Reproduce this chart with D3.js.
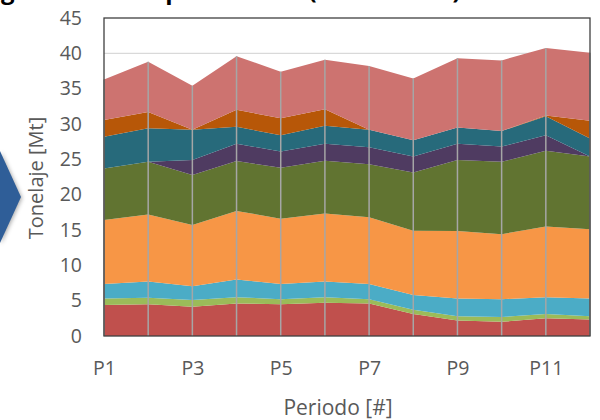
<!DOCTYPE html>
<html>
<head>
<meta charset="utf-8">
<script src="https://cdn.jsdelivr.net/npm/d3@7"></script>
<style>
  body { margin: 0; background: #fff; }
  #container { width: 600px; height: 420px; }
  text { font-family: "Open Sans", "Noto Sans", sans-serif; }
</style>
</head>
<body>
<div id="container"></div>
<script>
const container = d3.select('#container')

// periodos
const periods = ["P1", "P2", "P3", "P4", "P5", "P6", "P7", "P8", "P9", "P10", "P11", "P12"];
const periodTicks = ["P1", "P3", "P5", "P7", "P9", "P11"];
const yTicks = [0, 5, 10, 15, 20, 25, 30, 35, 40, 45];

// tonelaje por serie [Mt], de abajo hacia arriba
const serie1 = [4.4, 4.5, 4.15, 4.6, 4.5, 4.7, 4.6, 3.1, 2.2, 2.0, 2.5, 2.35];
const serie2 = [0.9, 0.9, 0.95, 0.9, 0.7, 0.8, 0.6, 0.6, 0.6, 0.7, 0.6, 0.45];
const serie3 = [2.05, 2.3, 1.95, 2.5, 2.15, 2.2, 2.15, 2.1, 2.5, 2.5, 2.4, 2.5];
const serie4 = [9.05, 9.5, 8.65, 9.7, 9.25, 9.65, 9.45, 9.1, 9.55, 9.2, 10.0, 9.8];
const serie5 = [7.3, 7.45, 7.1, 7.05, 7.2, 7.45, 7.5, 8.25, 10.05, 10.25, 10.7, 10.3];
const serie6 = [0, 0, 2.1, 2.45, 2.3, 2.4, 2.4, 2.25, 2.3, 2.15, 2.2, 0];
const serie7 = [4.5, 4.75, 4.3, 2.4, 2.3, 2.55, 2.5, 2.3, 2.3, 2.2, 2.7, 2.55];
const serie8 = [2.35, 2.3, 0, 2.4, 2.4, 2.35, 0, 0, 0, 0, 0.1, 2.5];
const serie9 = [5.75, 7.1, 6.2, 7.6, 6.6, 7.0, 9.0, 8.75, 9.8, 10.0, 9.55, 9.65];

const seriesKeys = ["s1", "s2", "s3", "s4", "s5", "s6", "s7", "s8", "s9"];
const seriesValues = [serie1, serie2, serie3, serie4, serie5, serie6, serie7, serie8, serie9];
const colors = ["#c0504d", "#9bbb59", "#4bacc6", "#f79646", "#617431", "#4f3b61", "#276a7b", "#b75708", "#cd7370"];

const width = 600, height = 420;
const margin = {top: 18, right: 10, bottom: 84, left: 104};

const svg = container.append('svg')
    .attr('width', width)
    .attr('height', height);

const table = periods.map((p, i) => {
    const row = {period: p};
    seriesKeys.forEach((k, j) => { row[k] = seriesValues[j][i]; });
    return row;
});

const stacked = d3.stack().keys(seriesKeys)(table);

const x = d3.scalePoint()
    .domain(periods)
    .range([margin.left, width - margin.right]);

const y = d3.scaleLinear()
    .domain([0, 45])
    .range([height - margin.bottom, margin.top]);

// titulo (cortado arriba)
const title = svg.append("text")
    .attr("y", -1)
    .attr("font-size", "24px")
    .attr("font-weight", "bold")
    .attr("fill", "#000")
    .text("Blending de material por destino (escenario 1)");
const off = title.node().getSubStringLength(0, 7);
title.attr("x", 1 - off);

// flecha lateral
svg.append("path")
    .attr("d", d3.line()([[0, 151], [21, 197], [0, 243]]) + "Z")
    .attr("fill", "#2f5e98")
    .style("filter", "drop-shadow(1px 1px 2px rgba(0,0,0,0.35))");

// grilla
svg.append("g")
    .selectAll("line")
    .data(yTicks.filter(d => d > 0 && d < 45))
    .join("line")
        .attr("x1", margin.left)
        .attr("x2", width - margin.right)
        .attr("y1", d => y(d))
        .attr("y2", d => y(d))
        .attr("stroke", "#d9d9d9")
        .attr("stroke-width", 1.2);

// areas
const area = d3.area()
    .x(d => x(d.data.period))
    .y0(d => y(d[0]))
    .y1(d => y(d[1]));

svg.append("g")
    .selectAll("path")
    .data(stacked)
    .join("path")
        .attr("d", area)
        .attr("fill", (d, i) => colors[i]);

// lineas de caida
const topLayer = stacked[stacked.length - 1];
svg.append("g")
    .selectAll("line")
    .data(topLayer)
    .join("line")
        .attr("x1", d => x(d.data.period))
        .attr("x2", d => x(d.data.period))
        .attr("y1", y(0))
        .attr("y2", d => y(d[1]))
        .attr("stroke", "#a6a6a6")
        .attr("stroke-width", 1.5);

// marco
svg.append("rect")
    .attr("x", margin.left)
    .attr("y", margin.top)
    .attr("width", width - margin.right - margin.left)
    .attr("height", height - margin.bottom - margin.top)
    .attr("fill", "none")
    .attr("stroke", "#404040")
    .attr("stroke-width", 1.3);

// ejes
const yAxis = svg.append("g")
    .attr("transform", `translate(${margin.left - 22},0)`)
    .call(d3.axisLeft(y).tickValues(yTicks).tickSize(0).tickPadding(0));
yAxis.select(".domain").remove();
yAxis.selectAll("text")
    .attr("font-size", "19.5px")
    .attr("fill", "#595959")
    .style("font-family", "'Open Sans', sans-serif");

const xAxis = svg.append("g")
    .attr("transform", `translate(0,${height - margin.bottom})`)
    .call(d3.axisBottom(x).tickValues(periodTicks).tickSize(0));
xAxis.select(".domain").remove();
xAxis.selectAll("text")
    .attr("y", 39)
    .attr("dy", 0)
    .attr("font-size", "19.5px")
    .attr("fill", "#595959")
    .style("font-family", "'Open Sans', sans-serif");

// titulos de ejes
svg.append("text")
    .attr("transform", "translate(35,178) rotate(-90)")
    .attr("text-anchor", "middle")
    .attr("dominant-baseline", "central")
    .attr("font-size", "20px")
    .attr("fill", "#595959")
    .text("Tonelaje [Mt]");

svg.append("text")
    .attr("x", 338)
    .attr("y", 415)
    .attr("text-anchor", "middle")
    .attr("font-size", "21px")
    .attr("fill", "#595959")
    .text("Periodo [#]");
</script>
</body>
</html>
